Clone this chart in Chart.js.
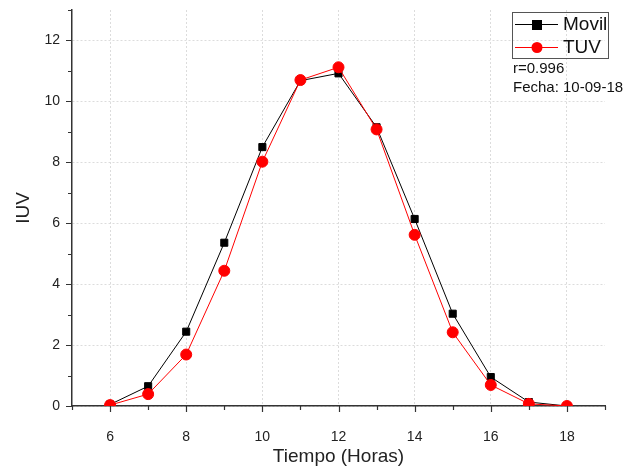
<!DOCTYPE html>
<html>
<head>
<meta charset="utf-8">
<script src="https://cdn.jsdelivr.net/npm/chart.js@4"></script>
<style>
  html, body { margin: 0; padding: 0; background: #fff; }
  #wrap { width: 635px; height: 468px; }
</style>
</head>
<body>
<div id="wrap"><canvas id="iuvChart" width="635" height="468"></canvas></div>
<script>
// Datos
const horas = [6, 7, 8, 9, 10, 11, 12, 13, 14, 15, 16, 17, 18];
const movil = [0.05, 0.65, 2.44, 5.36, 8.5, 10.68, 10.92, 9.15, 6.14, 3.03, 0.95, 0.13, 0.0];
const tuv = [0.03, 0.39, 1.69, 4.44, 8.02, 10.7, 11.12, 9.08, 5.62, 2.42, 0.69, 0.07, 0.0];
const xTicks = [6, 8, 10, 12, 14, 16, 18];
const yTicks = [0, 2, 4, 6, 8, 10, 12];
const notas = ['r=0.996', 'Fecha: 10-09-18'];

const FONT = '"Liberation Sans", Arial, sans-serif';

// Ticks externos (mayores y menores) y leyenda con recuadro
const ejesPlugin = {
    id: 'ejes',
    afterDraw(chart) {
        const ctx = chart.ctx;
        const xs = chart.scales.x, ys = chart.scales.y;
        const area = chart.chartArea;
        ctx.save();
        ctx.strokeStyle = '#333';
        ctx.lineWidth = 1.2;
        ctx.beginPath();
        for (let v = 5; v <= 19; v++) {
            const px = Math.round(xs.getPixelForValue(v)) + 0.5;
            const len = (v % 2 === 0) ? 6 : 4;
            ctx.moveTo(px, area.bottom);
            ctx.lineTo(px, area.bottom + len);
        }
        for (let v = 0; v <= 13; v++) {
            const py = Math.round(ys.getPixelForValue(v)) + 0.5;
            const len = (v % 2 === 0) ? 6 : 4;
            ctx.moveTo(area.left, py);
            ctx.lineTo(area.left - len, py);
        }
        ctx.stroke();

        // leyenda
        const bx = 512, by = 12, bw = 96, bh = 46;
        ctx.strokeStyle = '#555';
        ctx.lineWidth = 1;
        ctx.strokeRect(bx + 0.5, by + 0.5, bw, bh);
        chart.data.datasets.forEach(function(ds, i) {
            const cy = by + 12 + i * 23;
            ctx.strokeStyle = ds.borderColor;
            ctx.lineWidth = 1;
            ctx.beginPath();
            ctx.moveTo(bx + 3, cy + 0.5);
            ctx.lineTo(bx + 46, cy + 0.5);
            ctx.stroke();
            ctx.fillStyle = ds.pointBackgroundColor;
            if (ds.pointStyle === 'rect') {
                ctx.fillRect(bx + 20, cy - 4, 10, 10);
            } else {
                ctx.beginPath();
                ctx.arc(bx + 25, cy + 0.5, 5.5, 0, Math.PI * 2);
                ctx.fill();
            }
            ctx.fillStyle = '#111';
            ctx.font = '19px ' + FONT;
            ctx.textBaseline = 'middle';
            ctx.textAlign = 'left';
            ctx.fillText(ds.label, bx + 51, cy + 1);
        });
        ctx.font = '15px ' + FONT;
        ctx.fillStyle = '#111';
        ctx.textBaseline = 'middle';
        notas.forEach(function(t, i) {
            ctx.fillText(t, bx + 1, 69 + i * 19);
        });
        ctx.restore();
    }
};

document.addEventListener('DOMContentLoaded', function() {
    const ctx = document.getElementById('iuvChart').getContext('2d');
    new Chart(ctx, {
        type: 'line',
        data: {
            datasets: [{
                label: 'Movil',
                data: horas.map((h, i) => ({ x: h, y: movil[i] })),
                borderColor: '#000',
                backgroundColor: '#000',
                pointBackgroundColor: '#000',
                pointBorderColor: '#000',
                pointStyle: 'rect',
                pointRadius: 5,
                borderWidth: 1,
                tension: 0,
                order: 2
            }, {
                label: 'TUV',
                data: horas.map((h, i) => ({ x: h, y: tuv[i] })),
                borderColor: '#ff0000',
                backgroundColor: '#ff0000',
                pointBackgroundColor: '#ff0000',
                pointBorderColor: '#ff0000',
                pointStyle: 'circle',
                pointRadius: 5.5,
                borderWidth: 1,
                tension: 0,
                order: 1
            }]
        },
        options: {
            responsive: false,
            animation: false,
            layout: { padding: { left: 0, top: 10, right: 30, bottom: 0 } },
            plugins: { legend: { display: false }, tooltip: { enabled: false } },
            scales: {
                x: {
                    type: 'linear',
                    min: 5,
                    max: 19,
                    afterBuildTicks: function(scale) {
                        scale.ticks = xTicks.map(v => ({ value: v }));
                    },
                    afterFit: function(scale) {
                        scale.height = 62;
                        scale.paddingLeft = 0;
                        scale.paddingRight = 0;
                    },
                    grid: { color: '#dcdcdc', drawTicks: false },
                    border: { display: true, color: '#333', width: 1.5, dash: [2, 2] },
                    ticks: { color: '#222', font: { family: FONT, size: 14 }, padding: 23 },
                    title: {
                        display: true,
                        text: 'Tiempo (Horas)',
                        color: '#222',
                        font: { family: FONT, size: 19 },
                        padding: { top: 0, bottom: 0 }
                    }
                },
                y: {
                    type: 'linear',
                    min: 0,
                    max: 13,
                    afterBuildTicks: function(scale) {
                        scale.ticks = yTicks.map(v => ({ value: v }));
                    },
                    afterFit: function(scale) {
                        scale.width = 72;
                        scale.paddingTop = 0;
                        scale.paddingBottom = 0;
                    },
                    grid: { color: '#dcdcdc', drawTicks: false },
                    border: { display: true, color: '#333', width: 1.5, dash: [2, 2] },
                    ticks: { color: '#222', font: { family: FONT, size: 14 }, padding: 12 },
                    title: {
                        display: true,
                        text: 'IUV',
                        color: '#222',
                        font: { family: FONT, size: 19 },
                        padding: { top: 12, bottom: 0 }
                    }
                }
            }
        },
        plugins: [ejesPlugin]
    });
});
</script>
</body>
</html>
